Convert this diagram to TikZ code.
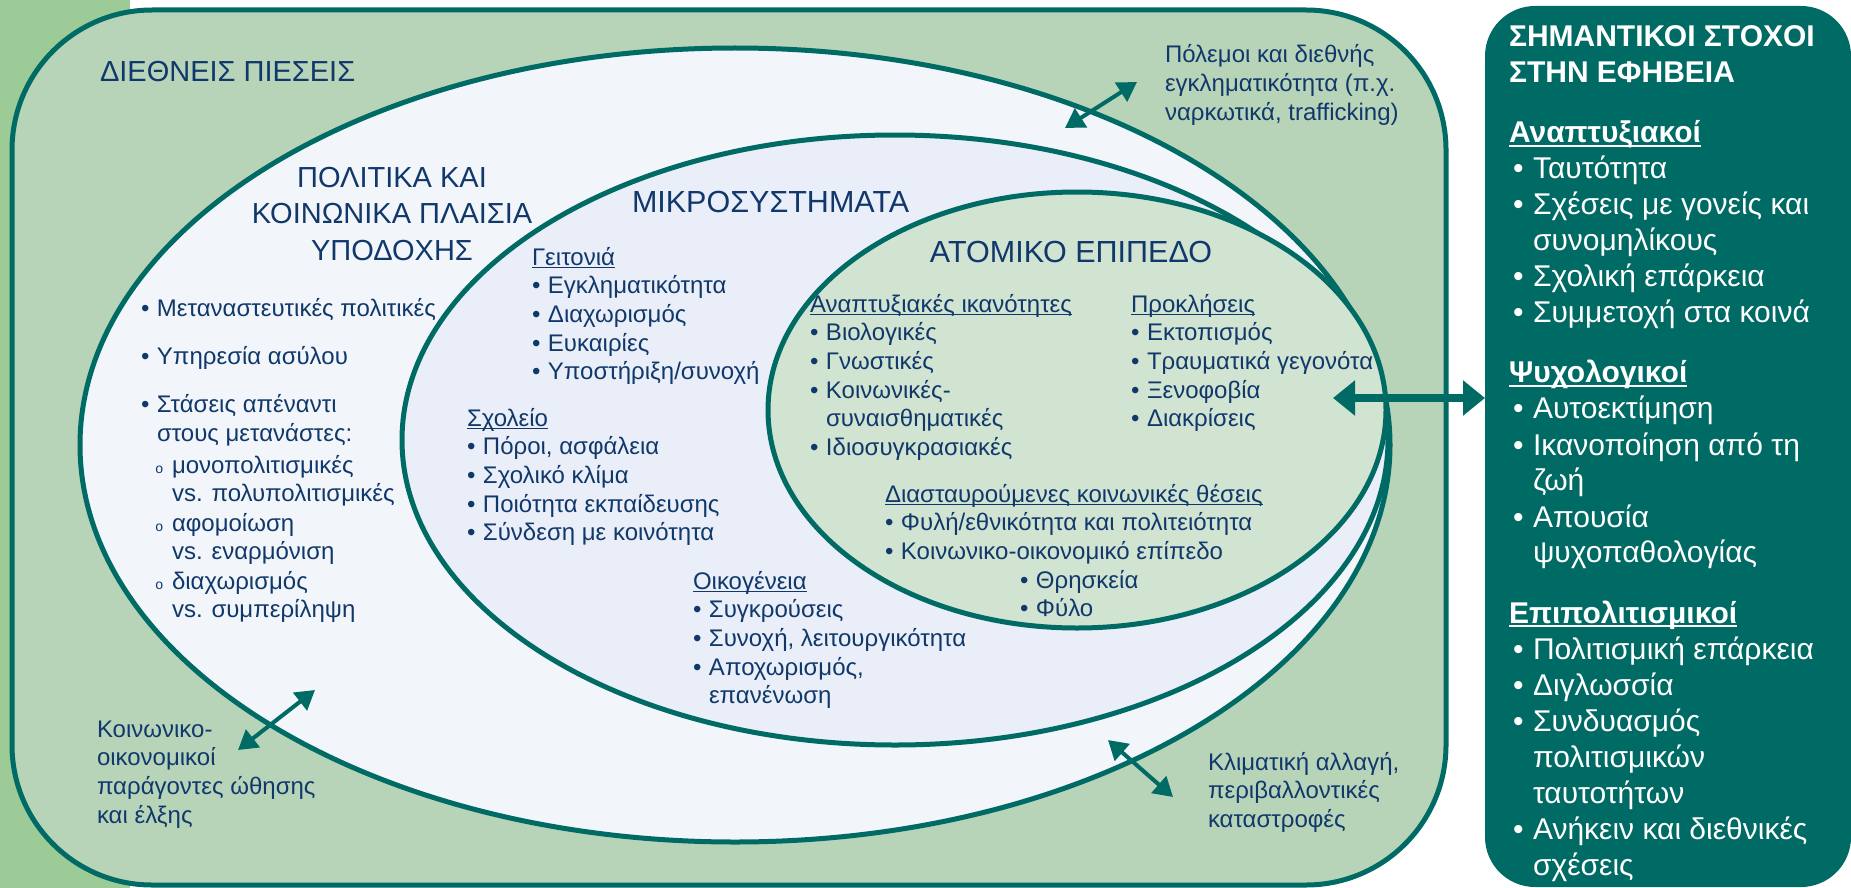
\documentclass[tikz,border=0pt]{standalone}
\usepackage{fontspec}
\setmainfont{Liberation Sans}
\newfontfamily\monof{Liberation Mono}
\usetikzlibrary{arrows.meta}
\definecolor{stripgreen}{HTML}{9DCB98}
\definecolor{outergreen}{HTML}{B7D4B9}
\definecolor{tealc}{HTML}{006A64}
\definecolor{polfill}{HTML}{F2F6FB}
\definecolor{micfill}{HTML}{E9EEF8}
\definecolor{atomfill}{HTML}{D1E3D1}
\definecolor{navy}{HTML}{10386B}
\newlength{\bulw}\setlength{\bulw}{16pt}
\newcommand{\bodyf}{\fontsize{24}{28.7}\selectfont}
\newcommand{\headf}{\fontsize{29}{36.5}\selectfont}
\newcommand{\bigheadf}{\fontsize{30.5}{36.5}\selectfont}
\newcommand{\panelf}{\fontsize{30}{36}\selectfont}
\newcommand{\bul}{\makebox[\bulw][l]{•}}
\newcommand{\hang}{\hspace*{\bulw}}
\newcommand{\sbul}{\hspace*{14pt}\makebox[17pt][l]{{\monof\fontsize{14}{14}\selectfont o}}}
\newcommand{\shang}{\hspace*{31pt}}
\newcommand{\myul}[1]{\setbox0=\hbox{#1}\rlap{\rule[-3pt]{\wd0}{1.4pt}}\box0}
\newcommand{\myulw}[1]{\setbox0=\hbox{#1}\rlap{\rule[-4pt]{\wd0}{2pt}}\box0}
\newcommand{\pbul}{\hspace*{4pt}\makebox[20pt][l]{•}}
\newcommand{\phang}{\hspace*{24pt}}
\begin{document}
\begin{tikzpicture}[x=1pt,y=-1pt,
  txt/.style={inner sep=0pt, outer sep=0pt, text=navy, font=\bodyf},
  head/.style={txt, font=\headf},
  bighead/.style={txt, font=\bigheadf},
  ptxt/.style={inner sep=0pt, outer sep=0pt, text=white, font=\panelf},
  ring/.style={draw=tealc, line width=5pt},
  arr/.style={draw=tealc, line width=4pt, {Triangle[length=19pt,width=22pt]}-{Triangle[length=19pt,width=22pt]}},
  bigarr/.style={draw=tealc, line width=8pt, {Triangle[length=22pt,width=34pt]}-{Triangle[length=22pt,width=34pt]}}
]
\useasboundingbox (0,0) rectangle (1851,888);
% background strip
\fill[stripgreen] (0,0) rectangle (130,888);
% outer frame
\draw[ring, fill=outergreen, rounded corners=140pt] (12,10) rectangle (1446,885);
% nested ellipses
\path[ring, fill=polfill] (735,445) ellipse [x radius=655pt, y radius=397pt];
\path[ring, fill=micfill] (895,440) ellipse [x radius=493pt, y radius=305pt];
\path[ring, fill=atomfill] (1077,410) ellipse [x radius=309pt, y radius=218pt];
% thin arrows
\coordinate (w1) at (1065,128); \coordinate (w2) at (1137,82);
\coordinate (c1) at (1108,740); \coordinate (c2) at (1173,797);
\coordinate (s1) at (238,750); \coordinate (s2) at (315,690);
\draw[arr] (w1) -- (w2);
\draw[arr] (c1) -- (c2);
\draw[arr] (s1) -- (s2);
% texts of outer level
\node[head, anchor=base west] (dp) at (100,82) {ΔΙΕΘΝΕΙΣ ΠΙΕΣΕΙΣ};
\node[txt, anchor=base west] (war) at (1165,63) {\begin{tabular}[t]{@{}l@{}}Πόλεμοι και διεθνής\\ εγκληματικότητα (π.χ.\\ ναρκωτικά, trafficking)\end{tabular}};
\node[txt, anchor=base west] (clim) at (1208,770) {\begin{tabular}[t]{@{}l@{}}Κλιματική αλλαγή,\\ περιβαλλοντικές\\ καταστροφές\end{tabular}};
\node[txt, anchor=base west] (soc) at (97,737) {\begin{tabular}[t]{@{}l@{}}Κοινωνικο-\\ οικονομικοί\\ παράγοντες ώθησης\\ και έλξης\end{tabular}};
% politika
\node[head, anchor=base] (ph) at (392,187) {\begin{tabular}[t]{@{}c@{}}ΠΟΛΙΤΙΚΑ ΚΑΙ\\ ΚΟΙΝΩΝΙΚΑ ΠΛΑΙΣΙΑ\\ ΥΠΟΔΟΧΗΣ\end{tabular}};
\node[txt, anchor=base west] (pl) at (141,316) {\begin{tabular}[t]{@{}l@{}}
\bul Μεταναστευτικές πολιτικές\\[19.3pt]
\bul Υπηρεσία ασύλου\\[20pt]
\bul Στάσεις απέναντι\\
\hang στους μετανάστες:\\[3pt]
\sbul μονοπολιτισμικές\\
\shang vs. πολυπολιτισμικές\\[0.6pt]
\sbul αφομοίωση\\
\shang vs. εναρμόνιση\\[0.6pt]
\sbul διαχωρισμός\\
\shang vs. συμπερίληψη
\end{tabular}};
% micro
\node[bighead, anchor=base west] (mh) at (632,212) {ΜΙΚΡΟΣΥΣΤΗΜΑΤΑ};
\node[txt, anchor=base west] (geit) at (532,265) {\begin{tabular}[t]{@{}l@{}}
\myul{Γειτονιά}\\
\bul Εγκληματικότητα\\
\bul Διαχωρισμός\\
\bul Ευκαιρίες\\
\bul Υποστήριξη/συνοχή
\end{tabular}};
\node[txt, anchor=base west] (sch) at (467,426) {\begin{tabular}[t]{@{}l@{}}
\myul{Σχολείο}\\
\bul Πόροι, ασφάλεια\\
\bul Σχολικό κλίμα\\
\bul Ποιότητα εκπαίδευσης\\
\bul Σύνδεση με κοινότητα
\end{tabular}};
\node[txt, anchor=base west] (fam) at (693,589) {\begin{tabular}[t]{@{}l@{}}
\myul{Οικογένεια}\\
\bul Συγκρούσεις\\
\bul Συνοχή, λειτουργικότητα\\
\bul Αποχωρισμός,\\
\hang επανένωση
\end{tabular}};
% atomiko
\node[bighead, anchor=base] (ah) at (1071,262) {ΑΤΟΜΙΚΟ ΕΠΙΠΕΔΟ};
\node[txt, anchor=base west] (dev) at (810,312) {\begin{tabular}[t]{@{}l@{}}
\myul{Αναπτυξιακές ικανότητες}\\
\bul Βιολογικές\\
\bul Γνωστικές\\
\bul Κοινωνικές-\\
\hang συναισθηματικές\\
\bul Ιδιοσυγκρασιακές
\end{tabular}};
\node[txt, anchor=base west] (chal) at (1131,312) {\begin{tabular}[t]{@{}l@{}}
\myul{Προκλήσεις}\\
\bul Εκτοπισμός\\
\bul Τραυματικά γεγονότα\\
\bul Ξενοφοβία\\
\bul Διακρίσεις
\end{tabular}};
\node[txt, anchor=base west] (inter) at (885,502) {\begin{tabular}[t]{@{}l@{}}
\myul{Διασταυρούμενες κοινωνικές θέσεις}\\
\bul Φυλή/εθνικότητα και πολιτειότητα\\
\bul Κοινωνικο-οικονομικό επίπεδο
\end{tabular}};
\node[txt, anchor=base west] (rel) at (1020,588) {\begin{tabular}[t]{@{}l@{}}
\bul Θρησκεία\\
\bul Φύλο
\end{tabular}};
% right panel
\fill[tealc, rounded corners=50pt] (1485,6) rectangle (1851,887);
\node[ptxt, anchor=base west] (goals) at (1509,47) {\begin{tabular}[t]{@{}l@{}}
\textbf{ΣΗΜΑΝΤΙΚΟΙ ΣΤΟΧΟΙ}\\
\textbf{ΣΤΗΝ ΕΦΗΒΕΙΑ}\\[24pt]
\myulw{\textbf{Αναπτυξιακοί}}\\
\pbul Ταυτότητα\\
\pbul Σχέσεις με γονείς και\\
\phang συνομηλίκους\\
\pbul Σχολική επάρκεια\\
\pbul Συμμετοχή στα κοινά\\[24pt]
\myulw{\textbf{Ψυχολογικοί}}\\
\pbul Αυτοεκτίμηση\\
\pbul Ικανοποίηση από τη\\
\phang ζωή\\
\pbul Απουσία\\
\phang ψυχοπαθολογίας\\[24pt]
\myulw{\textbf{Επιπολιτισμικοί}}\\
\pbul Πολιτισμική επάρκεια\\
\pbul Διγλωσσία\\
\pbul Συνδυασμός\\
\phang πολιτισμικών\\
\phang ταυτοτήτων\\
\pbul Ανήκειν και διεθνικές\\
\phang σχέσεις
\end{tabular}};
% big arrow
\coordinate (b1) at (1333,398); \coordinate (b2) at (1485,398);
\draw[bigarr] (b1) -- (b2);
\end{tikzpicture}
\end{document}
